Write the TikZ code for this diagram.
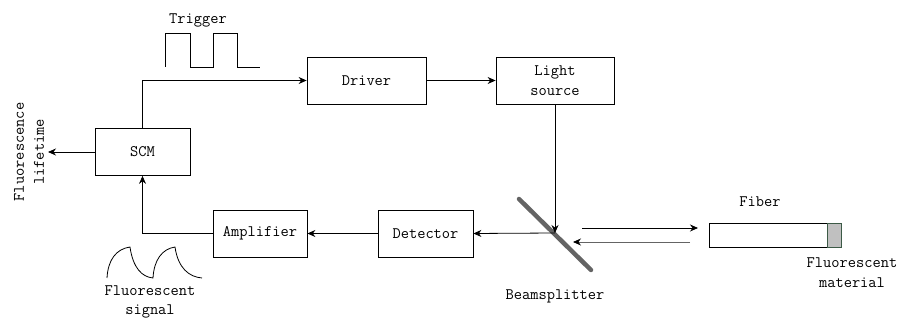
\documentclass[tikz,border=0pt]{standalone}
\usetikzlibrary{arrows.meta}
\usetikzlibrary{positioning}
\newcommand{\boxheight}{47pt}
\definecolor{splittergray}{RGB}{100,100,100}
\definecolor{materialgray}{RGB}{192,192,192}
\definecolor{materialedge}{RGB}{60,90,70}

\begin{document}
\begin{tikzpicture}[x=1pt,y=-1pt,font=\fontsize{16}{20}\ttfamily,line width=0.8pt]
                \useasboundingbox (0,0) rectangle (898,320);

                \begin{scope}[every node/.style={rectangle,draw,minimum height=\boxheight,align=center}]
                    \node[minimum width=95pt] (scm) at (142.5,152) {SCM};
                    \node[minimum width=119pt] (driver) at (366.5,80.5) {Driver};
                    \node[minimum width=118pt] (light) at (555,80.5) {Light\\source};
                    \node[minimum width=95pt] (detector) at (425.5,233.5) {Detector};
                    \node[minimum width=94pt] (amplifier) at (260,233.5) {Amplifier};
                    \node[minimum width=118pt,minimum height=24pt] (fiber) at (768,235) {};
                    \node[minimum width=14pt,minimum height=24pt,fill=materialgray,draw=materialedge] (material) at (834,235) {};
                \end{scope}

                \begin{scope}[every node/.style={align=center}]
                    \node (trigger) at (198,20) {Trigger};
                    \node[rotate=90] (lifetime) at (29,152) {Fluorescence\\lifetime};
                    \node[font=\fontsize{16}{19}\ttfamily] (signal) at (150,302) {Fluorescent\\signal};
                    \node (splitter) at (555,296) {Beamsplitter};
                    \node (fiberlabel) at (760,202) {Fiber};
                    \node (materiallabel) at (852,273) {Fluorescent\\material};
                \end{scope}

                \coordinate (bs) at (555,233);
                \coordinate (bs1) at (519,199);
                \coordinate (bs2) at (591,270);
                \coordinate (out) at (48,152);
                \coordinate (fwdA) at (582,228);
                \coordinate (fwdB) at (698,228);
                \coordinate (backA) at (690,242);
                \coordinate (backB) at (573,242);

                % beamsplitter plate
                \draw[splittergray,line width=4.5pt,line cap=round] (bs1) -- (bs2);

                \begin{scope}[>={Stealth[black,length=8pt,width=7pt]},
                    every edge/.style={draw=black,line width=0.8pt}]
                    \path [->] (scm.west) edge (out);
                    \path [->] (scm.north) edge[to path={|- (\tikztotarget)}] (driver.west);
                    \path [->] (driver) edge (light);
                    \path [->] (light.south) edge (bs);
                    \path [->] (bs) edge (detector.east);
                    \path [->] (detector) edge (amplifier);
                    \path [->] (amplifier.west) edge[to path={-| (\tikztotarget)}] (scm.south);
                    \path [->] (fwdA) edge (fwdB);
                    \path [->] (backA) edge[draw=splittergray] (backB);
                \end{scope}

                % trigger pulses
                \draw (165,67) -- (165,33) -- (190,33) -- (190,67) -- (213,67) -- (213,33)
                    -- (237,33) -- (237,67) -- (260,67);

                % fluorescent signal
                \draw (107,278) .. controls (108,260) and (116,249) .. (130,247)
                    .. controls (133,268) and (142,277) .. (153,278)
                    .. controls (154,260) and (162,249) .. (175,247)
                    .. controls (178,268) and (189,277) .. (202,278);
            \end{tikzpicture}
\end{document}
